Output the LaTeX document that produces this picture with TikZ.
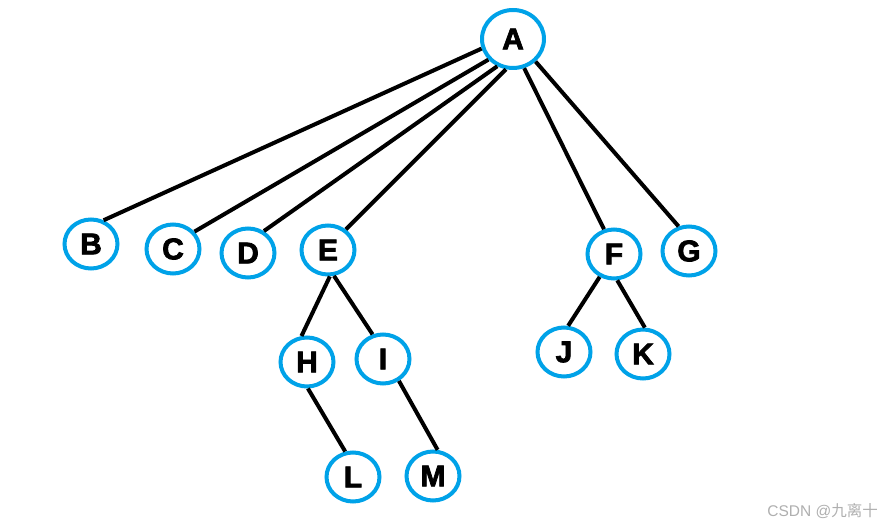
\documentclass[tikz,border=0pt]{standalone}
\usepackage{fontspec}
\setmainfont{Liberation Sans}
\newfontfamily\boldlbl[FakeBold=2.5]{Liberation Sans Bold}
\newfontfamily\cjkwm{Noto Sans CJK SC}
\usetikzlibrary{shapes.geometric}
\definecolor{nodeblue}{RGB}{0,162,232}
\definecolor{wmgray}{RGB}{175,175,175}
\tikzset{
  treenode/.style={ellipse, draw=nodeblue, line width=4pt, fill=white, inner sep=0pt,
    minimum width=53pt, minimum height=49pt,
    font=\boldlbl\fontsize{30}{32}\selectfont},
  rootnode/.style={treenode, minimum width=62pt, minimum height=58pt},
  treeedge/.style={draw=black, line width=4pt}
}
\begin{document}
\begin{tikzpicture}[x=1pt,y=-1pt]
\useasboundingbox (0,0) rectangle (883,526);
\node[rootnode] (A) at (513,39) {A};
\node[treenode] (B) at (91,244) {B};
\node[treenode] (C) at (173,249) {C};
\node[treenode] (D) at (248,253) {D};
\node[treenode] (E) at (328,250) {E};
\node[treenode] (F) at (614,254) {F};
\node[treenode] (G) at (689,251) {G};
\node[treenode] (H) at (307,362) {H};
\node[treenode] (I) at (383,359) {I};
\node[treenode] (J) at (564,352) {J};
\node[treenode] (K) at (643,354) {K};
\node[treenode] (L) at (353,477) {L};
\node[treenode] (M) at (433,476) {M};
\path[treeedge] (A.197) -- (B.62);
\path[treeedge] (A.220) -- (C.39);
\path[treeedge] (A.240) -- (D.54);
\path[treeedge] (A.257) -- (E.49);
\path[treeedge] (A.291) -- (F.112);
\path[treeedge] (A.315) -- (G.113);
\path[treeedge] (E.-86) -- (H.102);
\path[treeedge] (E.-77) -- (I.113);
\path[treeedge] (H.-88) -- (L.107);
\path[treeedge] (I.-54) -- (M.80);
\path[treeedge] (F.-122) -- (J.81);
\path[treeedge] (F.-83) -- (K.86);
\node[anchor=east, text=wmgray, font=\fontsize{15.5}{17}\selectfont, inner sep=0pt] (wm) at (878,511) {CSDN @{\cjkwm 九离十}};
\end{tikzpicture}
\end{document}
